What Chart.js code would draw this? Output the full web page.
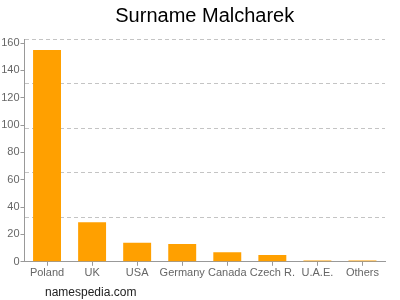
<!DOCTYPE html>
<html>
<head>
<meta charset="utf-8">
<script src="https://cdn.jsdelivr.net/npm/chart.js@4.4.1/dist/chart.umd.min.js"></script>
<style>
    body { margin: 0; background: #fff; }
    #wrap { position: relative; width: 400px; height: 300px; }
    #footer {
        position: absolute; left: 45px; top: 285px;
        font: 12px "Liberation Sans", Arial, sans-serif; color: #222;
    }
</style>
</head>
<body>
<div id="wrap">
    <canvas id="surnameChart" width="400" height="300"></canvas>
    <div id="footer">namespedia.com</div>
</div>
<script>
const countries = ['Poland', 'UK', 'USA', 'Germany', 'Canada', 'Czech R.', 'U.A.E.', 'Others'];
const counts = [155, 29, 14, 13, 7, 5, 1, 1];
const yTicks = [0, 20, 40, 60, 80, 100, 120, 140, 160];

const font = { family: '"Liberation Sans", Arial, sans-serif', size: 11 };

document.addEventListener('DOMContentLoaded', () => {
    const ctx = document.getElementById('surnameChart').getContext('2d');

    new Chart(ctx, {
        type: 'bar',
        data: {
            labels: countries,
            datasets: [{
                data: counts,
                backgroundColor: '#ffa000',
                barPercentage: 0.62,
                categoryPercentage: 1
            }]
        },
        options: {
            responsive: false,
            animation: false,
            layout: { padding: { left: 0, right: 0, top: 0, bottom: 19 } },
            plugins: {
                legend: { display: false },
                tooltip: { enabled: false },
                title: {
                    display: true,
                    fullSize: false,
                    text: 'Surname Malcharek',
                    color: '#000',
                    font: { family: font.family, size: 20, weight: 'normal' },
                    padding: { top: 4, bottom: 11 }
                }
            },
            scales: {
                x: {
                    offset: true,
                    border: { color: '#999' },
                    grid: { offset: false, drawOnChartArea: false, tickLength: 4, color: '#999' },
                    ticks: { color: '#666', font: font, padding: 1, maxRotation: 0, autoSkip: false }
                },
                y: {
                    min: 0,
                    max: 163,
                    border: { color: '#999' },
                    grid: { drawOnChartArea: false, tickLength: 4, color: '#999' },
                    afterBuildTicks: scale => {
                        scale.ticks = yTicks.map(v => ({ value: v }));
                    },
                    afterFit: scale => { scale.width = 24.5; },
                    ticks: { color: '#666', font: font, padding: 1 }
                },
                y2: {
                    position: 'left',
                    min: 0,
                    max: 5,
                    border: { display: false, dash: [4, 3] },
                    grid: {
                        drawTicks: false,
                        color: ctx => ctx.tick.value === 0 ? 'rgba(0,0,0,0)' : '#c4c4c4'
                    },
                    ticks: { display: false, stepSize: 1 },
                    afterFit: scale => { scale.width = 0; }
                },
                yRight: {
                    position: 'right',
                    border: { display: false },
                    grid: { display: false },
                    ticks: { display: false },
                    afterFit: scale => { scale.width = 15; }
                }
            }
        }
    });
});
</script>
</body>
</html>
